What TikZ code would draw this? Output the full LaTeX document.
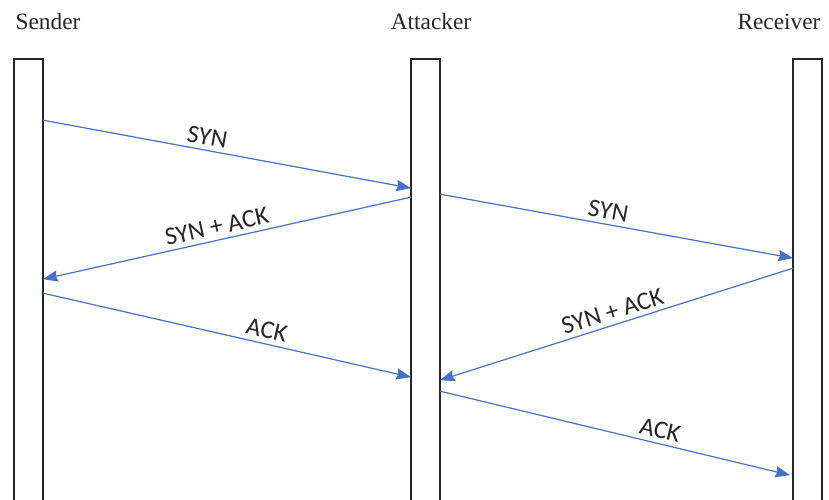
\documentclass[tikz,border=0pt]{standalone}
\usepackage{fontspec}
\setmainfont{Liberation Serif}
\newfontfamily\labelfont{Carlito}
\usetikzlibrary{calc,arrows.meta}
\definecolor{msgblue}{HTML}{4472C4}
\definecolor{barline}{HTML}{262626}
\tikzset{
  lifeline/.style={draw=barline, line width=1.3pt, rectangle, outer sep=0pt,
    inner sep=0pt, minimum width=21.75pt, minimum height=338pt, fill=white},
  actor/.style={font=\fontsize{17.5}{20}\selectfont, text=black!85, inner sep=0pt},
  msg/.style={draw=msgblue, line width=0.9pt,
    -{Stealth[length=11pt,width=8.5pt,inset=1.2pt]}},
  msglabel/.style={font=\labelfont\fontsize{19}{21}\selectfont, text=black!85,
    sloped, above=3pt, inner sep=0.5pt}
}
\begin{document}
\begin{tikzpicture}[x=0.75pt, y=-0.75pt]
  \clip (0,0) rectangle (829,500);
  \fill[white] (0,0) rectangle (829,500);

  % participants
  \node[actor] (tS) at (48,22) {Sender};
  \node[actor] (tA) at (431,22) {Attacker};
  \node[actor] (tR) at (779,22) {Receiver};

  % lifelines (running past the lower edge)
  \node[lifeline] (S) at (28.5,284.5) {};
  \node[lifeline] (A) at (425.5,284.5) {};
  \node[lifeline] (R) at (807.5,284.5) {};

  % sender <-> attacker handshake
  \draw[msg] ($(S.north east)+(0,61)$) -- node[msglabel, pos=0.44] {SYN}
    ($(A.north west)+(0,129)$);
  \draw[msg] ($(A.north west)+(0,138)$) -- node[msglabel, pos=0.52] {SYN + ACK}
    ($(S.north east)+(0,220)$);
  \draw[msg] ($(S.north east)+(0,234)$) -- node[msglabel, pos=0.6] {ACK}
    ($(A.north west)+(0,318)$);

  % attacker <-> receiver handshake
  \draw[msg] ($(A.north east)+(0,135)$) -- node[msglabel, pos=0.47] {SYN}
    ($(R.north west)+(0,199)$);
  \draw[msg] ($(R.north west)+(0,209)$) -- node[msglabel, pos=0.5] {SYN + ACK}
    ($(A.north east)+(0,321)$);
  \draw[msg] ($(A.north east)+(0,332)$) -- node[msglabel, pos=0.62] {ACK}
    ($(R.north west)+(-3,416)$);
\end{tikzpicture}
\end{document}
